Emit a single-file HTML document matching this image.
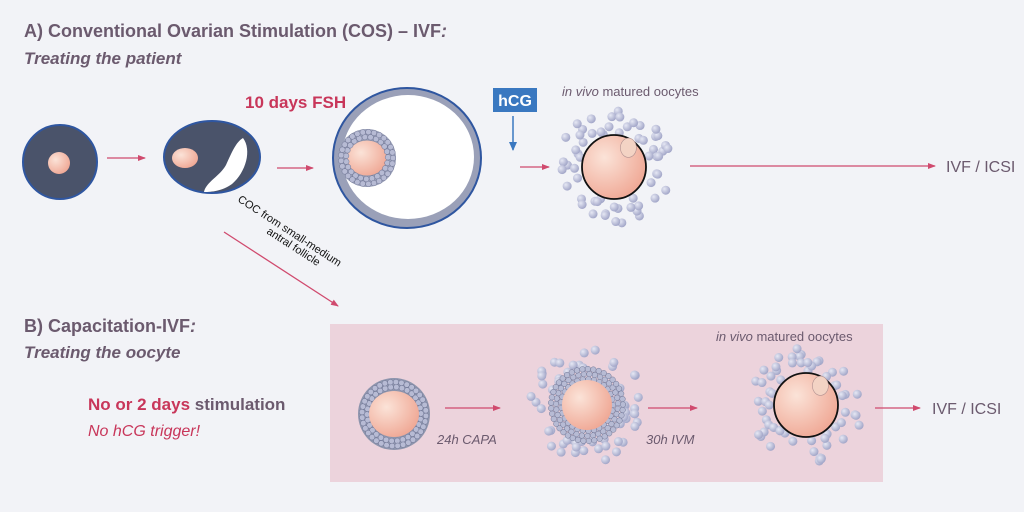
<!DOCTYPE html>
<html><head><meta charset="utf-8"><style>
body{margin:0;background:#f2f3f7}
svg{display:block;font-family:"Liberation Sans",sans-serif}
</style></head><body>
<svg id="s" width="1024" height="512" viewBox="0 0 1024 512" xmlns="http://www.w3.org/2000/svg">
<defs>
<radialGradient id="oo" cx="0.35" cy="0.35" r="0.8"><stop offset="0" stop-color="#fbe3d8"/><stop offset="1" stop-color="#eea08c"/></radialGradient>
<radialGradient id="cell" cx="0.35" cy="0.35" r="0.7"><stop offset="0" stop-color="#e6e8f4"/><stop offset="1" stop-color="#9fa3c6"/></radialGradient>
<marker id="ar" markerWidth="8" markerHeight="8" refX="7" refY="4" orient="auto" markerUnits="userSpaceOnUse"><path d="M0,1 L8,4 L0,7z" fill="#d04a6e"/></marker>
<marker id="ab" markerWidth="10" markerHeight="10" refX="8" refY="5" orient="auto" markerUnits="userSpaceOnUse"><path d="M0,1 L9,5 L0,9z" fill="#3a78c0"/></marker>
</defs>
<rect width="1024" height="512" fill="#f2f3f7"/>
<text x="24" y="37" font-size="18" font-weight="bold" fill="#6b5a6e">A) Conventional Ovarian Stimulation (COS) – IVF<tspan font-style="italic">:</tspan></text>
<text x="24" y="64" font-size="17" font-weight="bold" font-style="italic" fill="#6b5a6e">Treating the patient</text>
<!-- follicle 1 -->
<circle cx="60" cy="162" r="37" fill="#4a536a" stroke="#2f56a0" stroke-width="2"/>
<circle cx="59" cy="163" r="11" fill="url(#oo)"/>
<line x1="107" y1="158" x2="145" y2="158" stroke="#d04a6e" stroke-width="1.3" marker-end="url(#ar)"/>
<!-- follicle 2 -->
<ellipse cx="212" cy="157" rx="48" ry="36" fill="#4a536a" stroke="#2f56a0" stroke-width="2"/>
<path d="M243,138 C252,150 246,172 232,184 C222,191 212,192 204,192 C206,182 220,176 226,165 C232,152 236,142 243,138Z" fill="#fff"/>
<ellipse cx="185" cy="158" rx="13" ry="10" fill="url(#oo)"/>
<line x1="277" y1="168" x2="313" y2="168" stroke="#d04a6e" stroke-width="1.3" marker-end="url(#ar)"/>
<!-- follicle 3 -->
<ellipse cx="407" cy="158" rx="74" ry="70" fill="#9aa0b8" stroke="#2f56a0" stroke-width="2"/>
<ellipse cx="408" cy="157" rx="66" ry="62" fill="#fff"/>
<circle cx="367" cy="158" r="29" fill="#9aa0b8"/>
<ellipse cx="367" cy="158" rx="20" ry="18" fill="url(#oo)" stroke="#8e95ad"/>
<g id="rings"></g>
<text x="245" y="108" font-size="17" font-weight="bold" fill="#c8365a">10 days FSH</text>
<rect x="493" y="88" width="44" height="24" fill="#3a78c0"/>
<text x="515" y="106" font-size="16" font-weight="bold" fill="#fff" text-anchor="middle">hCG</text>
<line x1="513" y1="116" x2="513" y2="150" stroke="#3a78c0" stroke-width="1.5" marker-end="url(#ab)"/>
<line x1="520" y1="167" x2="549" y2="167" stroke="#d04a6e" stroke-width="1.3" marker-end="url(#ar)"/>
<text x="562" y="96" font-size="13" fill="#6b5a6e"><tspan font-style="italic">in vivo</tspan> matured oocytes</text>
<g id="c1"></g>
<line x1="690" y1="166" x2="935" y2="166" stroke="#d04a6e" stroke-width="1.3" marker-end="url(#ar)"/>
<text x="946" y="172" font-size="16" fill="#6b5a6e">IVF / ICSI</text>
<!-- diagonal -->
<line x1="224" y1="232" x2="338" y2="306" stroke="#d04a6e" stroke-width="1.3" marker-end="url(#ar)"/>
<text transform="translate(237,201) rotate(33)" font-size="11" fill="#111">COC from small-medium</text>
<text transform="translate(266,233) rotate(33)" font-size="11" fill="#111">antral follicle</text>
<!-- B -->
<text x="24" y="332" font-size="18" font-weight="bold" fill="#6b5a6e">B) Capacitation-IVF<tspan font-style="italic">:</tspan></text>
<text x="24" y="358" font-size="17" font-weight="bold" font-style="italic" fill="#6b5a6e">Treating the oocyte</text>
<text x="88" y="410" font-size="17" font-weight="bold" fill="#c8365a">No or 2 days <tspan fill="#6b5a6e">stimulation</tspan></text>
<text x="88" y="436" font-size="16" font-style="italic" fill="#c8365a">No hCG trigger!</text>
<rect x="330" y="324" width="553" height="158" fill="#ecd3dc"/>
<text x="716" y="341" font-size="13" fill="#6b5a6e"><tspan font-style="italic">in vivo</tspan> matured oocytes</text>
<circle cx="394" cy="414" r="36" fill="#8e95ad"/>
<g id="b1"></g>
<ellipse cx="394" cy="414" rx="25" ry="23" fill="url(#oo)"/>
<line x1="445" y1="408" x2="500" y2="408" stroke="#d04a6e" stroke-width="1.3" marker-end="url(#ar)"/>
<text x="437" y="444" font-size="13" font-style="italic" fill="#6b5a6e">24h CAPA</text>
<g id="b2"></g>
<line x1="648" y1="408" x2="697" y2="408" stroke="#d04a6e" stroke-width="1.3" marker-end="url(#ar)"/>
<text x="646" y="444" font-size="13" font-style="italic" fill="#6b5a6e">30h IVM</text>
<g id="b3"></g>
<line x1="875" y1="408" x2="920" y2="408" stroke="#d04a6e" stroke-width="1.3" marker-end="url(#ar)"/>
<text x="932" y="414" font-size="16" fill="#6b5a6e">IVF / ICSI</text>
</svg>
<script>
var NS="http://www.w3.org/2000/svg";
function c(g,x,y,r,f,st){var e=document.createElementNS(NS,"circle");e.setAttribute("cx",x);e.setAttribute("cy",y);e.setAttribute("r",r);e.setAttribute("fill",f);if(st){e.setAttribute("stroke",st);e.setAttribute("stroke-width",st=="#111"?1.8:0.5);}document.getElementById(g).appendChild(e);return e;}
var seed=3;function rnd(){seed=(seed*9301+49297)%233280;return seed/233280;}
function loose(g,cx,cy,r0,r1,n){for(var i=0;i<n;i++){var a=rnd()*6.283,r=r0+rnd()*(r1-r0);c(g,cx+r*Math.cos(a),cy+r*Math.sin(a),4.5,"url(#cell)");}}
function tight(g,cx,cy,r0,r1){for(var r=r0;r<=r1;r+=5){var n=Math.floor(2*Math.PI*r/5.5);for(var i=0;i<n;i++){var a=i/n*6.283+r;c(g,cx+r*Math.cos(a),cy+r*Math.sin(a),2.8,"#b7bbd4","#6e7494");}}}
function oocyte(g,cx,cy,r){c(g,cx,cy,r,"url(#oo)","#111");var e=document.createElementNS(NS,"ellipse");e.setAttribute("cx",cx+r*0.45);e.setAttribute("cy",cy-r*0.6);e.setAttribute("rx",r*0.25);e.setAttribute("ry",r*0.3);e.setAttribute("fill","#f3d3c4");e.setAttribute("stroke","#b09090");e.setAttribute("stroke-width","0.6");document.getElementById(g).appendChild(e);}
tight("rings",367,158,21,27);
loose("c1",614,167,34,58,60);oocyte("c1",614,167,32);
tight("b1",394,414,27,34);
loose("b2",587,405,36,58,55);tight("b2",587,405,26,36);c("b2",587,405,25,"url(#oo)");
loose("b3",806,405,34,58,60);oocyte("b3",806,405,32);
</script>
</body></html>
